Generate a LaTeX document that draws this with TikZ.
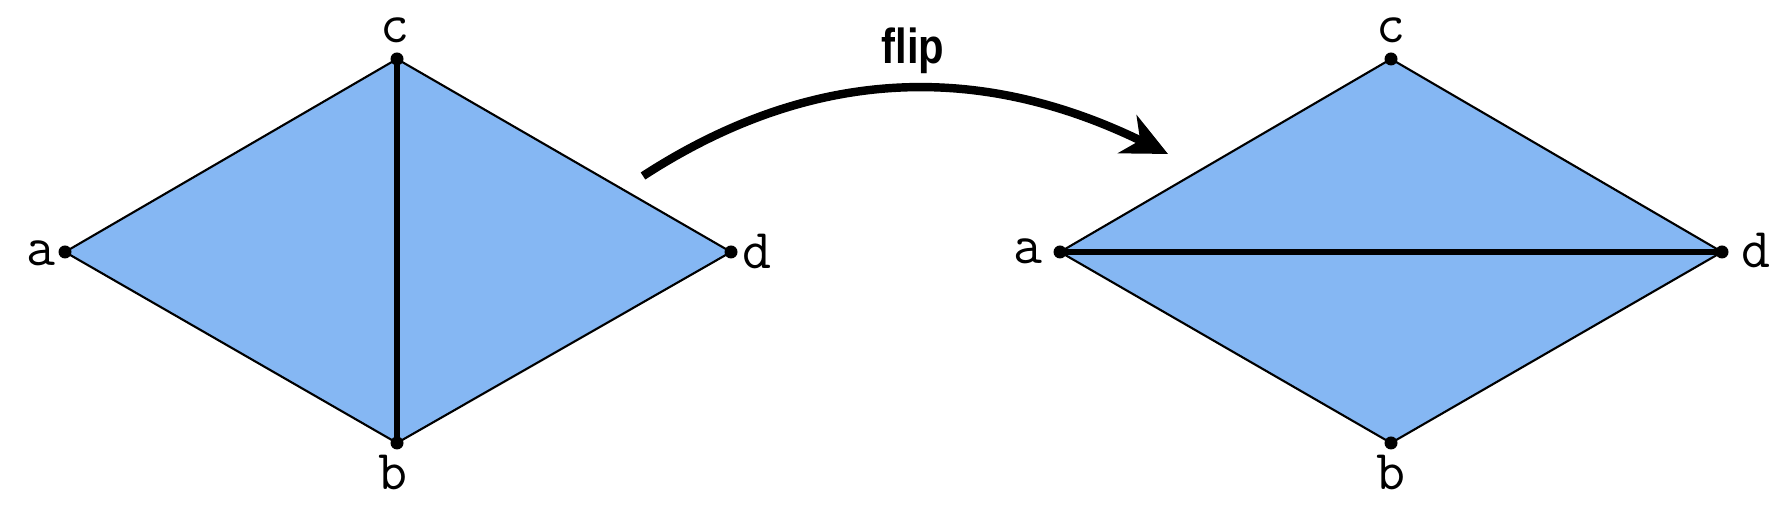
\documentclass[tikz,border=0pt]{standalone}
\usepackage{fontspec}
\usepackage{tikz}
\usetikzlibrary{arrows.meta}
\newfontfamily\flipfont{Liberation Sans}
\definecolor{meshblue}{RGB}{133,183,243}
\tikzset{
	edge/.style={line width=0.6pt},
	diag/.style={line width=1.8pt},
	vlabel/.style={inner sep=0pt,font=\fontsize{16}{16}\selectfont\ttfamily},
	vdot/.style={fill=black}
}
\begin{document}
\begin{tikzpicture}
			\useasboundingbox (0,0) rectangle (17.9,5.06);
			% left mesh
			\coordinate (a1) at (0.65,2.54);
			\coordinate (c1) at (3.97,4.47);
			\coordinate (b1) at (3.97,0.63);
			\coordinate (d1) at (7.31,2.54);
			\fill[meshblue] (a1)--(c1)--(d1)--(b1)--cycle;
			\draw[edge] (a1)-- (c1);
			\draw[edge] (c1)-- (d1);
			\draw[edge] (d1)-- (b1);
			\draw[edge] (b1)-- (a1);
			\draw[diag] (c1)-- (b1);
			% right mesh
			\coordinate (a2) at (10.60,2.54);
			\coordinate (c2) at (13.91,4.47);
			\coordinate (b2) at (13.91,0.63);
			\coordinate (d2) at (17.22,2.54);
			\fill[meshblue] (a2)--(c2)--(d2)--(b2)--cycle;
			\draw[edge] (a2)-- (c2);
			\draw[edge] (c2)-- (d2);
			\draw[edge] (d2)-- (b2);
			\draw[edge] (b2)-- (a2);
			\draw[diag] (a2)-- (d2);
			% vertices
			\foreach \v in {a1,b1,c1,d1,a2,b2,c2,d2}
				\fill[vdot] (\v) circle (0.065);
			\node[vlabel] (la1) at (0.41,2.53) {a};
			\node[vlabel] (lc1) at (3.95,4.76) {c};
			\node[vlabel] (lb1) at (3.93,0.34) {b};
			\node[vlabel] (ld1) at (7.57,2.54) {d};
			\node[vlabel] (la2) at (10.28,2.55) {a};
			\node[vlabel] (lc2) at (13.91,4.76) {c};
			\node[vlabel] (lb2) at (13.91,0.34) {b};
			\node[vlabel] (ld2) at (17.56,2.55) {d};
			% flip arrow
			\coordinate (fstart) at (6.43,3.30);
			\coordinate (fend) at (11.68,3.52);
			\draw[line width=2.4pt,-{Stealth[length=0.45cm,width=0.42cm,inset=0.14cm]}] (fstart) to[out=33,in=154] (fend);
			\node[font=\fontsize{14}{14}\flipfont\bfseries,inner sep=0pt,xscale=0.85] (flip) at (9.13,4.55) {flip};
\end{tikzpicture}
\end{document}
